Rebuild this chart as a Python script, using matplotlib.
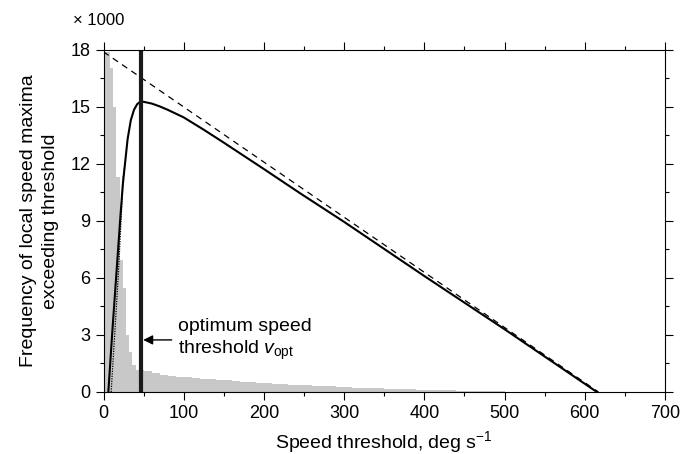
import numpy as np
import matplotlib
matplotlib.use('Agg')
import matplotlib.pyplot as plt
from matplotlib.ticker import MultipleLocator

plt.rcParams['font.family'] = ['Liberation Sans', 'DejaVu Sans']
plt.rcParams['mathtext.fontset'] = 'custom'
plt.rcParams['mathtext.rm'] = 'Liberation Sans'
plt.rcParams['mathtext.it'] = 'Liberation Sans:italic'

# histogram of local speed maxima (x 1000), narrow bins near 0 then 10 deg/s bins
hist_edges = np.concatenate([np.arange(0, 40, 4), np.arange(40, 531, 10)])
hist_head = [17.9, 17.9, 17.05, 15.0, 11.3, 6.95, 5.47, 3.0, 2.1, 1.4]
hist_tail = [1.18, 1.10, 0.98, 0.92, 0.86, 0.81, 0.77, 0.74, 0.70, 0.67,
             0.64, 0.61, 0.58, 0.55, 0.52, 0.49, 0.47, 0.44, 0.42, 0.39,
             0.37, 0.35, 0.33, 0.31, 0.29, 0.27, 0.25, 0.23, 0.22, 0.20,
             0.19, 0.17, 0.16, 0.15, 0.14, 0.13, 0.12, 0.10, 0.09, 0.08,
             0.07, 0.06, 0.05, 0.04, 0.03, 0.03, 0.02, 0.01, 0.01]
hist_vals = hist_head + hist_tail

# number of maxima exceeding threshold
curve_x = [6, 11, 16.5, 21, 24, 27, 30, 34, 38, 42, 46, 50, 60, 70, 80, 90,
           100, 125, 150, 200, 245, 300, 400, 500, 615]
curve_y = [0, 3.2, 6.5, 9.2, 10.9, 12.1, 13.3, 14.3, 14.85, 15.15, 15.28,
           15.27, 15.18, 15.03, 14.85, 14.65, 14.45, 13.8, 13.12, 11.73,
           10.46, 8.95, 6.1, 3.3, 0]

dotted_x = [9.5, 18.5, 24.5, 27]
dotted_y = [0, 6.2, 11.3, 12.1]

dashed_x = [0, 617]
dashed_y = [17.9, 0]

v_opt = 47
arrow_y = 2.74

fig = plt.figure(figsize=(6.92, 4.54), dpi=100)
ax = fig.add_axes([0.1496, 0.1366, 0.8114, 0.7534])

ax.stairs(hist_vals, hist_edges, fill=True, color='#c8c8c8', lw=0)
ax.plot(dashed_x, dashed_y, color='black', lw=0.9, ls=(0, (5, 4)))
ax.plot(dotted_x, dotted_y, color='black', lw=0.9, ls=(0, (1, 1)))
ax.plot(curve_x, curve_y, color='black', lw=1.5)
ax.axvline(v_opt, color='#1a1a1a', lw=3.0)

ax.annotate('', xy=(v_opt + 2.5, arrow_y), xytext=(85, arrow_y),
            arrowprops=dict(arrowstyle='-|>', color='black', lw=1.0,
                            mutation_scale=14, shrinkA=0, shrinkB=0))
ax.text(93, arrow_y, 'optimum speed\nthreshold $v_{\\mathrm{opt}}$',
        fontsize=14, va='center', ha='left', linespacing=1.3)

ax.set_xlim(0, 700)
ax.set_ylim(0, 18)
ax.xaxis.set_major_locator(MultipleLocator(100))
ax.xaxis.set_minor_locator(MultipleLocator(50))
ax.yaxis.set_major_locator(MultipleLocator(3))
ax.yaxis.set_minor_locator(MultipleLocator(1.5))
ax.tick_params(which='both', direction='out', top=True, right=True,
               labeltop=False, labelright=False, width=0.8, labelsize=13)
ax.tick_params(which='major', length=6)
ax.tick_params(which='minor', length=3)
for s in ax.spines.values():
    s.set_linewidth(0.8)

ax.set_xlabel('Speed threshold, deg s$^{-1}$', fontsize=14, labelpad=5)
ax.set_ylabel('Frequency of local speed maxima\nexceeding threshold',
              fontsize=14, labelpad=8, linespacing=1.4)
fig.text(0.105, 0.955, '\u00d7 1000', fontsize=12, ha='left', va='center')

fig.savefig('out.png', dpi=100)
